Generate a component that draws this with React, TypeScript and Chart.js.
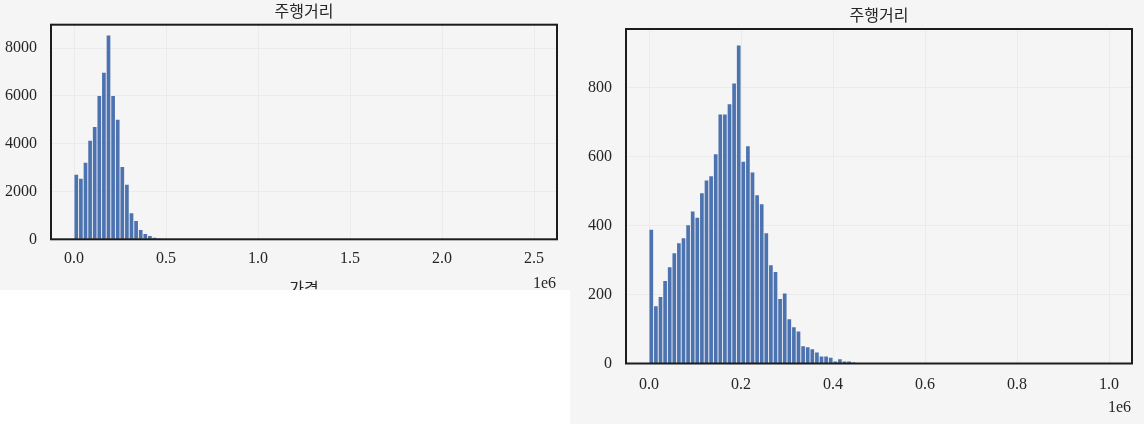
import React, { useEffect, useRef } from "react";
import { Chart, registerables } from "chart.js";

Chart.register(...registerables);

const TITLE = "주행거리";
const LEFT_XLABEL = "가격";
const OFFSET_TEXT = "1e6";

// Left histogram: 100 bins over 0..2.5e6 (only the non-empty ones listed)
const LEFT_BIN_WIDTH = 25000;
const LEFT_COUNTS = [2700, 2530, 3200, 4120, 4700, 6000, 6970, 8530, 6000, 5000, 3030, 2280, 1090, 770, 390, 220, 140, 60, 30];
const LEFT_X_TICKS = [0, 500000, 1000000, 1500000, 2000000, 2500000];
const LEFT_Y_TICKS = [0, 2000, 4000, 6000, 8000];
const LEFT_X_MIN = -125000;
const LEFT_X_MAX = 2625000;
const LEFT_Y_MAX = 8980;

// Right histogram: 100 bins over 0..1e6 (only the non-empty ones listed)
const RIGHT_BIN_WIDTH = 10000;
const RIGHT_COUNTS = [
  388, 166, 193, 239, 279, 320, 349, 363, 401, 441,
  423, 494, 531, 543, 607, 722, 722, 752, 812, 922,
  585, 630, 554, 488, 462, 378, 285, 265, 187, 203,
  128, 105, 93, 50, 47, 41, 32, 20, 20, 17,
  6, 12, 6, 6, 3,
];
const RIGHT_X_TICKS = [0, 200000, 400000, 600000, 800000, 1000000];
const RIGHT_Y_TICKS = [0, 200, 400, 600, 800];
const RIGHT_X_MIN = -50000;
const RIGHT_X_MAX = 1050000;
const RIGHT_Y_MAX = 970;

const FONT = '"Liberation Serif", "Noto Sans CJK KR", serif';
const TEXT = "#262626";
const GRID = "#ebebeb";
const BAR = "#4c72b0";
const BG = "#f5f5f5";

const framePlugin = {
  id: "frameText",
  afterDraw(chart: any, _args: any, opts: any) {
    const { ctx, chartArea: a } = chart;
    ctx.save();
    ctx.strokeStyle = "#1c1c1c";
    ctx.lineWidth = 2;
    ctx.strokeRect(a.left, a.top, a.right - a.left, a.bottom - a.top);
    ctx.fillStyle = TEXT;
    ctx.font = `16px ${FONT}`;
    ctx.textAlign = "center";
    ctx.textBaseline = "middle";
    ctx.fillText(opts.title, (a.left + a.right) / 2, a.top - 12);
    if (opts.xlabel) ctx.fillText(opts.xlabel, (a.left + a.right) / 2, a.bottom + 50);
    ctx.textAlign = "right";
    ctx.fillText(opts.offset, a.right - 1, a.bottom + 44.5);
    ctx.restore();
  },
};

function makeConfig(p: any): any {
  return {
    type: "bar",
    data: {
      datasets: [
        {
          data: p.counts.map((c: number, i: number) => ({ x: (i + 0.5) * p.binWidth, y: c })),
          backgroundColor: BAR,
          borderWidth: 0,
          barPercentage: 0.8,
          categoryPercentage: 1,
        },
      ],
    },
    options: {
      responsive: false,
      animation: false,
      devicePixelRatio: 1,
      layout: { padding: { top: p.padTop, right: p.padRight, left: 0, bottom: 0 } },
      plugins: {
        legend: { display: false },
        tooltip: { enabled: false },
        frameText: { title: TITLE, xlabel: p.xlabel, offset: OFFSET_TEXT },
      },
      scales: {
        x: {
          type: "linear",
          min: p.xMin,
          max: p.xMax,
          offset: false,
          afterBuildTicks: (s: any) => {
            s.ticks = p.xTicks.map((v: number) => ({ value: v }));
          },
          afterFit: (s: any) => {
            s.height = p.xAxisHeight;
          },
          grid: { color: GRID, lineWidth: 1, drawTicks: false, offset: false },
          border: { display: false },
          ticks: {
            padding: p.xPad,
            color: TEXT,
            font: { family: FONT, size: 16 },
            maxRotation: 0,
            autoSkip: false,
            callback: (v: number) => (v / 1e6).toFixed(1),
          },
        },
        y: {
          type: "linear",
          min: 0,
          max: p.yMax,
          afterBuildTicks: (s: any) => {
            s.ticks = p.yTicks.map((v: number) => ({ value: v }));
          },
          afterFit: (s: any) => {
            s.width = p.yAxisWidth;
          },
          grid: { color: GRID, lineWidth: 1, drawTicks: false },
          border: { display: false },
          ticks: {
            padding: 14,
            color: TEXT,
            font: { family: FONT, size: 16 },
            autoSkip: false,
            callback: (v: number) => String(v),
          },
        },
      },
    },
    plugins: [framePlugin],
  };
}

function Hist(props: { cfg: any; width: number; height: number }) {
  const ref = useRef<HTMLCanvasElement | null>(null);
  useEffect(() => {
    if (!ref.current) return;
    const chart = new Chart(ref.current, makeConfig(props.cfg));
    return () => chart.destroy();
  }, []);
  return <canvas ref={ref} width={props.width} height={props.height} style={{ display: "block" }} />;
}

export default function App() {
  const left = {
    counts: LEFT_COUNTS,
    binWidth: LEFT_BIN_WIDTH,
    xTicks: LEFT_X_TICKS,
    yTicks: LEFT_Y_TICKS,
    xMin: LEFT_X_MIN,
    xMax: LEFT_X_MAX,
    yMax: LEFT_Y_MAX,
    padTop: 24.7,
    padRight: 13,
    yAxisWidth: 51,
    xAxisHeight: 50.7,
    xPad: 10,
    xlabel: LEFT_XLABEL,
  };
  const right = {
    counts: RIGHT_COUNTS,
    binWidth: RIGHT_BIN_WIDTH,
    xTicks: RIGHT_X_TICKS,
    yTicks: RIGHT_Y_TICKS,
    xMin: RIGHT_X_MIN,
    xMax: RIGHT_X_MAX,
    yMax: RIGHT_Y_MAX,
    padTop: 29,
    padRight: 12,
    yAxisWidth: 56,
    xAxisHeight: 60.5,
    xPad: 12,
    xlabel: "",
  };
  return (
    <div style={{ position: "fixed", left: 0, top: 0, width: 1144, height: 424, background: "#ffffff", overflow: "hidden" }}>
      <div style={{ position: "absolute", left: 0, top: 0, width: 570, height: 290, background: BG }}>
        <Hist cfg={left} width={570} height={290} />
      </div>
      <div style={{ position: "absolute", left: 570, top: 0, width: 574, height: 424, background: BG }}>
        <Hist cfg={right} width={574} height={424} />
      </div>
    </div>
  );
}
